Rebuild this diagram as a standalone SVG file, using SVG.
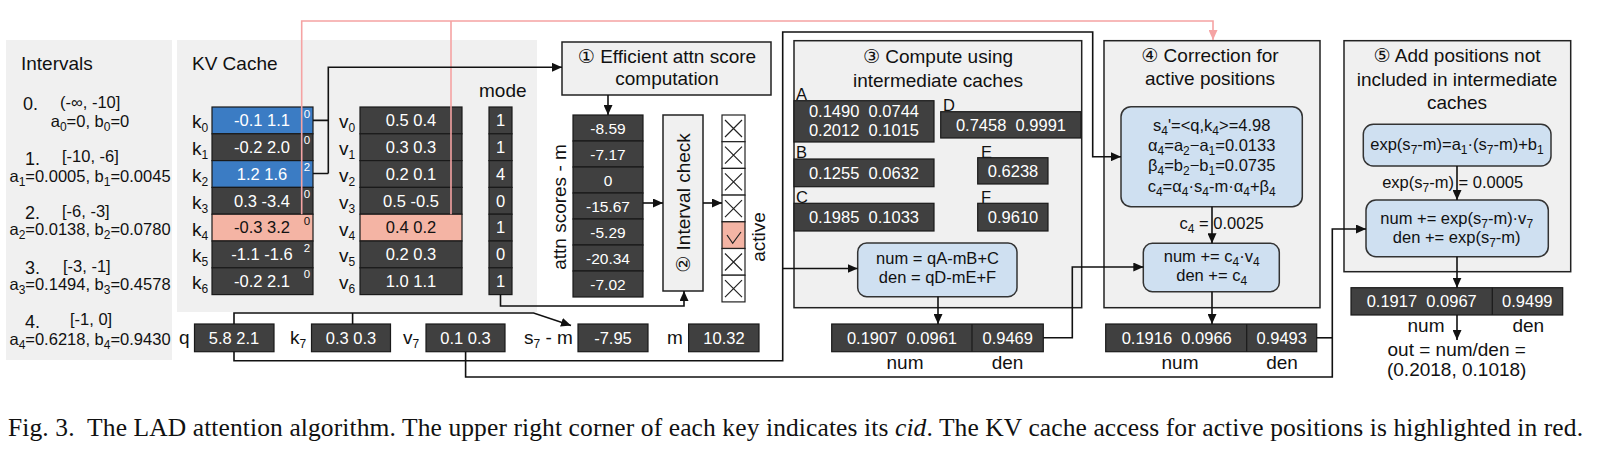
<svg xmlns="http://www.w3.org/2000/svg" width="1598" height="449" viewBox="0 0 1598 449">
<defs>
<marker id="ah" markerWidth="10" markerHeight="9" refX="10" refY="4.5" orient="auto" markerUnits="userSpaceOnUse"><path d="M0,0 L10,4.5 L0,9 z" fill="#111"/></marker>
<marker id="ahp" markerWidth="10" markerHeight="9" refX="10" refY="4.5" orient="auto" markerUnits="userSpaceOnUse"><path d="M0,0 L10,4.5 L0,9 z" fill="#f5a3a3"/></marker>
<style>
text{font-family:"Liberation Sans",Arial,"DejaVu Sans",sans-serif;fill:#111;font-size:16.5px}
.panel{fill:#f0f0f0}
.box{fill:#f0f0f0;stroke:#222;stroke-width:1.5}
.dk{fill:#404040;stroke:#1a1a1a;stroke-width:1.2}
.bl{fill:#3b7cc4;stroke:#1a1a1a;stroke-width:1.2}
.sa{fill:#f4b4a4;stroke:#1a1a1a;stroke-width:1.2}
.lb{fill:#cfe0f1;stroke:#333;stroke-width:1.5}
.w{fill:#fff}
.t19{font-size:19px}
.t18{font-size:18px}
.t15{font-size:15.5px}
.c{text-anchor:middle}
.ln{fill:none;stroke:#111;stroke-width:1.6}
.pk{fill:none;stroke:#f5a3a3;stroke-width:1.6}
.sb{font-size:12px}
.cid{font-size:11.5px}
.cell{fill:#fff;stroke:#222;stroke-width:1.2}
.x{stroke:#222;stroke-width:1.2;fill:none}
.cap{font-family:"Liberation Serif","Times New Roman",serif;font-size:25.5px}
</style>
</defs>

<!-- Intervals panel -->
<g id="intervals">
<rect class="panel" x="6" y="40" width="166" height="320"/>
<text class="t19" x="21" y="70">Intervals</text>
<text class="t18" x="23" y="110">0.</text>
<text x="60" y="108">(-∞, -10]</text>
<text class="c" x="90" y="127">a<tspan class="sb" dy="4">0</tspan><tspan dy="-4">=0, b</tspan><tspan class="sb" dy="4">0</tspan><tspan dy="-4">=0</tspan></text>
<text class="t18" x="25" y="165">1.</text>
<text x="62" y="162">[-10, -6]</text>
<text class="c" x="90" y="182">a<tspan class="sb" dy="4">1</tspan><tspan dy="-4">=0.0005, b</tspan><tspan class="sb" dy="4">1</tspan><tspan dy="-4">=0.0045</tspan></text>
<text class="t18" x="25" y="218.5">2.</text>
<text x="62" y="216.5">[-6, -3]</text>
<text class="c" x="90" y="235">a<tspan class="sb" dy="4">2</tspan><tspan dy="-4">=0.0138, b</tspan><tspan class="sb" dy="4">2</tspan><tspan dy="-4">=0.0780</tspan></text>
<text class="t18" x="25" y="273.5">3.</text>
<text x="63" y="271.5">[-3, -1]</text>
<text class="c" x="90" y="290">a<tspan class="sb" dy="4">3</tspan><tspan dy="-4">=0.1494, b</tspan><tspan class="sb" dy="4">3</tspan><tspan dy="-4">=0.4578</tspan></text>
<text class="t18" x="25" y="327.5">4.</text>
<text x="70" y="325">[-1, 0]</text>
<text class="c" x="90" y="345">a<tspan class="sb" dy="4">4</tspan><tspan dy="-4">=0.6218, b</tspan><tspan class="sb" dy="4">4</tspan><tspan dy="-4">=0.9430</tspan></text>
</g>

<!-- KV cache panel -->
<g id="kv-cache">
<rect class="panel" x="177" y="40" width="360" height="272"/>
<text class="t19" x="192" y="70">KV Cache</text>
<text class="t19" x="479" y="97">mode</text>
</g>

<g id="keys">
<rect class="bl" x="212" y="107" width="101" height="26.8"/>
<rect class="dk" x="212" y="133.8" width="101" height="26.8"/>
<rect class="bl" x="212" y="160.6" width="101" height="26.8"/>
<rect class="dk" x="212" y="187.4" width="101" height="26.8"/>
<rect class="sa" x="212" y="214.2" width="101" height="26.8"/>
<rect class="dk" x="212" y="241" width="101" height="26.8"/>
<rect class="dk" x="212" y="267.8" width="101" height="26.8"/>
<text class="w c" x="262" y="126.2">-0.1 1.1</text>
<text class="w c" x="262" y="153">-0.2 2.0</text>
<text class="w c" x="262" y="179.8">1.2 1.6</text>
<text class="w c" x="262" y="206.6">0.3 -3.4</text>
<text class="c" x="262" y="233.4">-0.3 3.2</text>
<text class="w c" x="262" y="260.2">-1.1 -1.6</text>
<text class="w c" x="262" y="287">-0.2 2.1</text>
<text class="w cid c" x="307" y="117.5">0</text>
<text class="w cid c" x="307" y="144.3">0</text>
<text class="w cid c" x="307" y="171.1">2</text>
<text class="w cid c" x="307" y="197.9">0</text>
<text class="cid c" x="307" y="224.7">0</text>
<text class="w cid c" x="307" y="251.5">2</text>
<text class="w cid c" x="307" y="278.3">0</text>
<text class="t19" x="192" y="128.4">k<tspan class="sb" dy="4">0</tspan></text>
<text class="t19" x="192" y="155.2">k<tspan class="sb" dy="4">1</tspan></text>
<text class="t19" x="192" y="182">k<tspan class="sb" dy="4">2</tspan></text>
<text class="t19" x="192" y="208.8">k<tspan class="sb" dy="4">3</tspan></text>
<text class="t19" x="192" y="235.6">k<tspan class="sb" dy="4">4</tspan></text>
<text class="t19" x="192" y="262.4">k<tspan class="sb" dy="4">5</tspan></text>
<text class="t19" x="192" y="289.2">k<tspan class="sb" dy="4">6</tspan></text>
</g>

<g id="values">
<rect class="dk" x="360" y="107" width="102" height="26.8"/>
<rect class="dk" x="360" y="133.8" width="102" height="26.8"/>
<rect class="dk" x="360" y="160.6" width="102" height="26.8"/>
<rect class="dk" x="360" y="187.4" width="102" height="26.8"/>
<rect class="sa" x="360" y="214.2" width="102" height="26.8"/>
<rect class="dk" x="360" y="241" width="102" height="26.8"/>
<rect class="dk" x="360" y="267.8" width="102" height="26.8"/>
<text class="w c" x="411" y="126.2">0.5 0.4</text>
<text class="w c" x="411" y="153">0.3 0.3</text>
<text class="w c" x="411" y="179.8">0.2 0.1</text>
<text class="w c" x="411" y="206.6">0.5 -0.5</text>
<text class="c" x="411" y="233.4">0.4 0.2</text>
<text class="w c" x="411" y="260.2">0.2 0.3</text>
<text class="w c" x="411" y="287">1.0 1.1</text>
<text class="t19" x="339" y="128.4">v<tspan class="sb" dy="4">0</tspan></text>
<text class="t19" x="339" y="155.2">v<tspan class="sb" dy="4">1</tspan></text>
<text class="t19" x="339" y="182">v<tspan class="sb" dy="4">2</tspan></text>
<text class="t19" x="339" y="208.8">v<tspan class="sb" dy="4">3</tspan></text>
<text class="t19" x="339" y="235.6">v<tspan class="sb" dy="4">4</tspan></text>
<text class="t19" x="339" y="262.4">v<tspan class="sb" dy="4">5</tspan></text>
<text class="t19" x="339" y="289.2">v<tspan class="sb" dy="4">6</tspan></text>
</g>

<g id="mode">
<rect class="dk" x="489" y="107" width="23" height="26.8"/>
<rect class="dk" x="489" y="133.8" width="23" height="26.8"/>
<rect class="dk" x="489" y="160.6" width="23" height="26.8"/>
<rect class="dk" x="489" y="187.4" width="23" height="26.8"/>
<rect class="dk" x="489" y="214.2" width="23" height="26.8"/>
<rect class="dk" x="489" y="241" width="23" height="26.8"/>
<rect class="dk" x="489" y="267.8" width="23" height="26.8"/>
<text class="w c" x="500.5" y="126.2">1</text>
<text class="w c" x="500.5" y="153">1</text>
<text class="w c" x="500.5" y="179.8">4</text>
<text class="w c" x="500.5" y="206.6">0</text>
<text class="w c" x="500.5" y="233.4">1</text>
<text class="w c" x="500.5" y="260.2">0</text>
<text class="w c" x="500.5" y="287">1</text>
</g>

<!-- Step 1 -->
<g id="step1">
<rect class="box" x="562" y="42" width="209" height="53"/>
<text class="t19 c" x="667" y="63">① Efficient attn score</text>
<text class="t19 c" x="667" y="85">computation</text>
</g>

<g id="attn-scores">
<rect class="dk" x="573" y="115" width="70" height="26"/>
<rect class="dk" x="573" y="141" width="70" height="26"/>
<rect class="dk" x="573" y="167" width="70" height="26"/>
<rect class="dk" x="573" y="193" width="70" height="26"/>
<rect class="dk" x="573" y="219" width="70" height="26"/>
<rect class="dk" x="573" y="245" width="70" height="26"/>
<rect class="dk" x="573" y="271" width="70" height="26"/>
<text class="w c t15" x="608" y="133.5">-8.59</text>
<text class="w c t15" x="608" y="159.5">-7.17</text>
<text class="w c t15" x="608" y="185.5">0</text>
<text class="w c t15" x="608" y="211.5">-15.67</text>
<text class="w c t15" x="608" y="237.5">-5.29</text>
<text class="w c t15" x="608" y="263.5">-20.34</text>
<text class="w c t15" x="608" y="289.5">-7.02</text>
<text class="t19 c" transform="translate(566,207) rotate(-90)">attn scores - m</text>
</g>

<g id="step2">
<rect class="box" x="663" y="115" width="40" height="176"/>
<text class="t19 c" transform="translate(690,203) rotate(-90)">② Interval check</text>
</g>

<g id="active">
<rect class="cell" x="722" y="115" width="23" height="26.7"/>
<rect class="cell" x="722" y="141.7" width="23" height="26.7"/>
<rect class="cell" x="722" y="168.4" width="23" height="26.7"/>
<rect class="cell" x="722" y="195.1" width="23" height="26.7"/>
<rect class="sa" x="722" y="221.8" width="23" height="26.7"/>
<rect class="cell" x="722" y="248.5" width="23" height="26.7"/>
<rect class="cell" x="722" y="275.2" width="23" height="26.7"/>
<path class="x" d="M725,120 L742,137 M742,120 L725,137 M725,146.7 L742,163.7 M742,146.7 L725,163.7 M725,173.4 L742,190.4 M742,173.4 L725,190.4 M725,200.1 L742,217.1 M742,200.1 L725,217.1 M725,253.5 L742,270.5 M742,253.5 L725,270.5 M725,280.2 L742,297.2 M742,280.2 L725,297.2"/>
<path class="x" d="M727,235 L732.7,243.3 L741,232"/>
<text class="t19 c" transform="translate(765,237) rotate(-90)">active</text>
</g>

<!-- bottom row inputs -->
<g id="q">
<text class="t19" x="179" y="344">q</text>
<rect class="dk" x="194.5" y="324" width="79.5" height="27.7"/>
<text class="w c" x="234" y="343.8">5.8 2.1</text>
</g>
<g id="k7">
<text class="t19" x="290" y="344">k<tspan class="sb" dy="4">7</tspan></text>
<rect class="dk" x="311.5" y="324" width="79" height="27.7"/>
<text class="w c" x="351" y="343.8">0.3 0.3</text>
</g>
<g id="v7">
<text class="t19" x="403" y="344">v<tspan class="sb" dy="4">7</tspan></text>
<rect class="dk" x="426" y="324" width="79" height="27.7"/>
<text class="w c" x="465.5" y="343.8">0.1 0.3</text>
</g>
<g id="s7m">
<text class="t19" x="524" y="344">s<tspan class="sb" dy="4">7</tspan><tspan dy="-4"> - m</tspan></text>
<rect class="dk" x="578" y="324" width="70" height="27.7"/>
<text class="w c" x="613" y="343.8">-7.95</text>
</g>
<g id="m">
<text class="t19" x="667" y="344">m</text>
<rect class="dk" x="688.6" y="324" width="70.4" height="27.7"/>
<text class="w c" x="724" y="343.8">10.32</text>
</g>

<!-- Step 3 -->
<g id="step3">
<rect class="box" x="794" y="40.7" width="287.7" height="267"/>
<text class="t19 c" x="938" y="63">③ Compute using</text>
<text class="t19 c" x="938" y="87">intermediate caches</text>
<text x="796" y="99.5">A</text>
<rect class="dk" x="794" y="100.7" width="140" height="41.3"/>
<text class="w c" x="864" y="117">0.1490&#160; 0.0744</text>
<text class="w c" x="864" y="136">0.2012&#160; 0.1015</text>
<text x="943" y="110.5">D</text>
<rect class="dk" x="940.7" y="111.7" width="140.3" height="26.3"/>
<text class="w c" x="1011" y="130.5">0.7458&#160; 0.9991</text>
<text x="796" y="158">B</text>
<rect class="dk" x="794" y="159" width="140" height="27.7"/>
<text class="w c" x="864" y="178.5">0.1255&#160; 0.0632</text>
<text x="981" y="158">E</text>
<rect class="dk" x="977.7" y="157.7" width="70.3" height="26.3"/>
<text class="w c" x="1013" y="176.5">0.6238</text>
<text x="796" y="202.5">C</text>
<rect class="dk" x="794" y="203.3" width="140" height="27.7"/>
<text class="w c" x="864" y="223">0.1985&#160; 0.1033</text>
<text x="981" y="202.5">F</text>
<rect class="dk" x="977.7" y="203.3" width="70.3" height="27.7"/>
<text class="w c" x="1013" y="223">0.9610</text>
<rect class="lb" x="857.7" y="243" width="159.3" height="53.7" rx="9"/>
<text class="c" x="937.5" y="263.5">num = qA-mB+C</text>
<text class="c" x="937.5" y="283">den = qD-mE+F</text>
</g>
<g id="out3">
<rect class="dk" x="831.7" y="324" width="211.6" height="27.7"/>
<line x1="972" y1="324" x2="972" y2="351.7" stroke="#1a1a1a" stroke-width="1.2"/>
<text class="w c" x="902" y="343.8">0.1907&#160; 0.0961</text>
<text class="w c" x="1007.7" y="343.8">0.9469</text>
<text class="t19 c" x="905" y="369">num</text>
<text class="t19 c" x="1007.5" y="369">den</text>
</g>

<!-- Step 4 -->
<g id="step4">
<rect class="box" x="1104" y="40.7" width="216" height="267"/>
<text class="t19 c" x="1210" y="62">④ Correction for</text>
<text class="t19 c" x="1210" y="85">active positions</text>
<rect class="lb" x="1121" y="106.7" width="181.3" height="100" rx="10"/>
<text class="c" x="1211.7" y="131">s<tspan class="sb" dy="4">4</tspan><tspan dy="-4">'=&lt;q,k</tspan><tspan class="sb" dy="4">4</tspan><tspan dy="-4">&gt;=4.98</tspan></text>
<text class="c" x="1211.7" y="151">α<tspan class="sb" dy="4">4</tspan><tspan dy="-4">=a</tspan><tspan class="sb" dy="4">2</tspan><tspan dy="-4">−a</tspan><tspan class="sb" dy="4">1</tspan><tspan dy="-4">=0.0133</tspan></text>
<text class="c" x="1211.7" y="171">β<tspan class="sb" dy="4">4</tspan><tspan dy="-4">=b</tspan><tspan class="sb" dy="4">2</tspan><tspan dy="-4">−b</tspan><tspan class="sb" dy="4">1</tspan><tspan dy="-4">=0.0735</tspan></text>
<text class="c" x="1211.7" y="192">c<tspan class="sb" dy="4">4</tspan><tspan dy="-4">=α</tspan><tspan class="sb" dy="4">4</tspan><tspan dy="-4">·s</tspan><tspan class="sb" dy="4">4</tspan><tspan dy="-4">-m·α</tspan><tspan class="sb" dy="4">4</tspan><tspan dy="-4">+β</tspan><tspan class="sb" dy="4">4</tspan></text>
<text class="c" x="1221.7" y="229">c<tspan class="sb" dy="4">4</tspan><tspan dy="-4"> = 0.0025</tspan></text>
<rect class="lb" x="1143.3" y="243.3" width="136" height="48.4" rx="9"/>
<text class="c" x="1211.7" y="262">num += c<tspan class="sb" dy="4">4</tspan><tspan dy="-4">·v</tspan><tspan class="sb" dy="4">4</tspan></text>
<text class="c" x="1211.7" y="281">den += c<tspan class="sb" dy="4">4</tspan></text>
</g>
<g id="out4">
<rect class="dk" x="1105.7" y="324" width="211" height="27.7"/>
<line x1="1246.7" y1="324" x2="1246.7" y2="351.7" stroke="#1a1a1a" stroke-width="1.2"/>
<text class="w c" x="1176.7" y="343.8">0.1916&#160; 0.0966</text>
<text class="w c" x="1281.7" y="343.8">0.9493</text>
<text class="t19 c" x="1180" y="369">num</text>
<text class="t19 c" x="1282" y="369">den</text>
</g>

<!-- Step 5 -->
<g id="step5">
<rect class="box" x="1344" y="40.7" width="226.7" height="231"/>
<text class="t19 c" x="1457" y="62">⑤ Add positions not</text>
<text class="t19 c" x="1457" y="86">included in intermediate</text>
<text class="t19 c" x="1457" y="108.5">caches</text>
<rect class="lb" x="1363.3" y="124.3" width="187.7" height="41.7" rx="10"/>
<text class="c" x="1457" y="150">exp(s<tspan class="sb" dy="4">7</tspan><tspan dy="-4">-m)=a</tspan><tspan class="sb" dy="4">1</tspan><tspan dy="-4">·(s</tspan><tspan class="sb" dy="4">7</tspan><tspan dy="-4">-m)+b</tspan><tspan class="sb" dy="4">1</tspan></text>
<text class="c" x="1452.7" y="187.5">exp(s<tspan class="sb" dy="4">7</tspan><tspan dy="-4">-m) = 0.0005</tspan></text>
<rect class="lb" x="1366" y="200" width="182.3" height="56.7" rx="10"/>
<text class="c" x="1456.7" y="223.5">num += exp(s<tspan class="sb" dy="4">7</tspan><tspan dy="-4">-m)·v</tspan><tspan class="sb" dy="4">7</tspan></text>
<text class="c" x="1456.7" y="243">den += exp(s<tspan class="sb" dy="4">7</tspan><tspan dy="-4">-m)</tspan></text>
</g>
<g id="out5">
<rect class="dk" x="1351" y="287.7" width="211.7" height="27.3"/>
<line x1="1492.3" y1="287.7" x2="1492.3" y2="315" stroke="#1a1a1a" stroke-width="1.2"/>
<text class="w c" x="1421.7" y="307">0.1917&#160; 0.0967</text>
<text class="w c" x="1527.3" y="307">0.9499</text>
<text class="t19 c" x="1426" y="332">num</text>
<text class="t19 c" x="1528.3" y="332">den</text>
<text class="t19 c" x="1456.7" y="355.5">out = num/den =</text>
<text class="t19 c" x="1456.7" y="375.5">(0.2018, 0.1018)</text>
</g>

<!-- connectors -->
<g id="connectors">
<path class="pk" d="M301.7,214.2 V21 H1213 V40" marker-end="url(#ahp)"/>
<path class="pk" d="M451,214.2 V21"/>
<path class="ln" d="M313,120.4 H328.3 M313,173.5 H328.3"/>
<path class="ln" d="M328.3,173.5 V67.3 H562" marker-end="url(#ah)"/>
<path class="ln" d="M608,95 V115" marker-end="url(#ah)"/>
<path class="ln" d="M643,203 H663" marker-end="url(#ah)"/>
<path class="ln" d="M703,203 H722" marker-end="url(#ah)"/>
<path class="ln" d="M500.5,294.6 V306 H684 V291" marker-end="url(#ah)"/>
<path class="ln" d="M352.6,324 V313"/>
<path class="ln" d="M234,324 V313 H533.6 L571,325.5" marker-end="url(#ah)"/>
<path class="ln" d="M234,351.7 V360.7 H782.7 V32 H1092.7 V156.7 H1121" marker-end="url(#ah)"/>
<path class="ln" d="M782.7,268.5 H857.7" marker-end="url(#ah)"/>
<path class="ln" d="M938,296.7 V324" marker-end="url(#ah)"/>
<path class="ln" d="M1043.3,337.8 H1072.3 V267 H1143.3" marker-end="url(#ah)"/>
<path class="ln" d="M1212,206.7 V243.3" marker-end="url(#ah)"/>
<path class="ln" d="M1212,291.7 V324" marker-end="url(#ah)"/>
<path class="ln" d="M1316.7,337.8 H1332.3"/>
<path class="ln" d="M465.6,351.7 V377 H1332.3 V229 H1366" marker-end="url(#ah)"/>
<path class="ln" d="M1457,166 V200" marker-end="url(#ah)"/>
<path class="ln" d="M1457,256.7 V287.7" marker-end="url(#ah)"/>
<path class="ln" d="M1457,315 V340" marker-end="url(#ah)"/>
</g>

<text class="cap" x="8" y="436" textLength="1575" lengthAdjust="spacing">Fig. 3.&#160; The LAD attention algorithm. The upper right corner of each key indicates its <tspan font-style="italic">cid</tspan>. The KV cache access for active positions is highlighted in red.</text>
</svg>
